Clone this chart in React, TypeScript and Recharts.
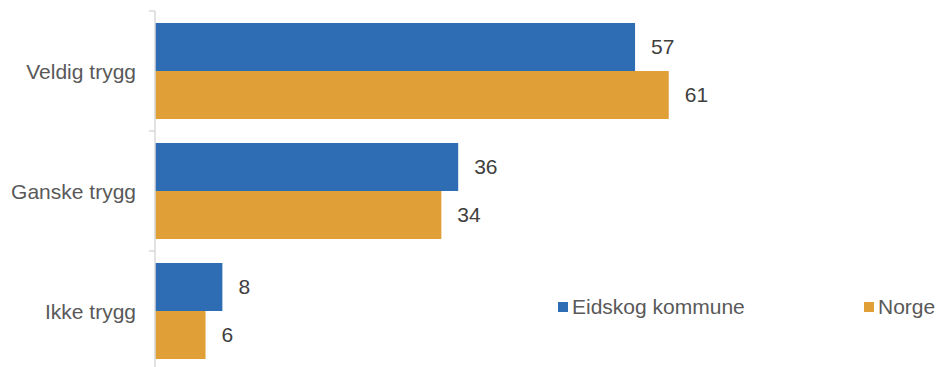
import React from "react";
import { BarChart, Bar, XAxis, YAxis, LabelList } from "recharts";

const categories = ["Veldig trygg", "Ganske trygg", "Ikke trygg"];
const eidskog = [57, 36, 8];
const norge = [61, 34, 6];
const seriesNames = ["Eidskog kommune", "Norge"];

const data = categories.map((c, i) => ({ name: c, eidskog: eidskog[i], norge: norge[i] }));

const BLUE = "#2E6DB4";
const ORANGE = "#E09F37";
const seriesColors = [BLUE, ORANGE];
const FONT = "'Liberation Sans', Arial, sans-serif";
const FS = 21;

const CategoryTick = (props: any) => {
  const { x, y, payload, index, visibleTicksCount } = props;
  const half = payload && payload.offset ? payload.offset : 60;
  const ax = x + 19;
  const isLast = index === (visibleTicksCount ?? categories.length) - 1;
  return (
    <g>
      <line x1={ax - 6} x2={ax} y1={y - half} y2={y - half} stroke="#d9d9d9" strokeWidth={1.5} />
      {isLast && (
        <line x1={ax - 6} x2={ax} y1={y + half} y2={y + half} stroke="#d9d9d9" strokeWidth={1.5} />
      )}
      <text x={x} y={y} textAnchor="end" dominantBaseline="central" fill="#595959" fontSize={FS} fontFamily={FONT}>
        {payload.value}
      </text>
    </g>
  );
};

export default function App() {
  return (
    <div style={{ position: "absolute", left: 0, top: 0, width: 940, height: 367, overflow: "hidden", background: "#fff" }}>
      <BarChart
        width={940}
        height={380}
        data={data}
        layout="vertical"
        margin={{ top: 11, right: 27, bottom: 9, left: 0 }}
        barCategoryGap="10%"
        barGap={0}
      >
        <XAxis type="number" domain={[0, 90]} hide />
        <YAxis
          type="category"
          dataKey="name"
          width={155}
          axisLine={{ stroke: "#d9d9d9", strokeWidth: 1.5 }}
          tickLine={false}
          tickSize={6}
          tickMargin={13}
          tick={<CategoryTick />}
          interval={0}
        />
        <Bar dataKey="eidskog" name={seriesNames[0]} fill={BLUE} isAnimationActive={false}>
          <LabelList dataKey="eidskog" position="right" offset={16} fill="#404040" fontSize={FS} fontFamily={FONT} />
        </Bar>
        <Bar dataKey="norge" name={seriesNames[1]} fill={ORANGE} isAnimationActive={false}>
          <LabelList dataKey="norge" position="right" offset={16} fill="#404040" fontSize={FS} fontFamily={FONT} />
        </Bar>
      </BarChart>
      <div
        style={{
          position: "absolute",
          left: 558,
          top: 294,
          display: "flex",
          fontFamily: FONT,
          fontSize: FS,
          color: "#595959",
          lineHeight: "26px",
        }}
      >
        {seriesNames.map((n, i) => (
          <div key={i} style={{ display: "flex", alignItems: "center", width: 306 }}>
            <span style={{ display: "inline-block", width: 10, height: 10, background: seriesColors[i], marginRight: 4 }} />
            <span>{n}</span>
          </div>
        ))}
      </div>
    </div>
  );
}
